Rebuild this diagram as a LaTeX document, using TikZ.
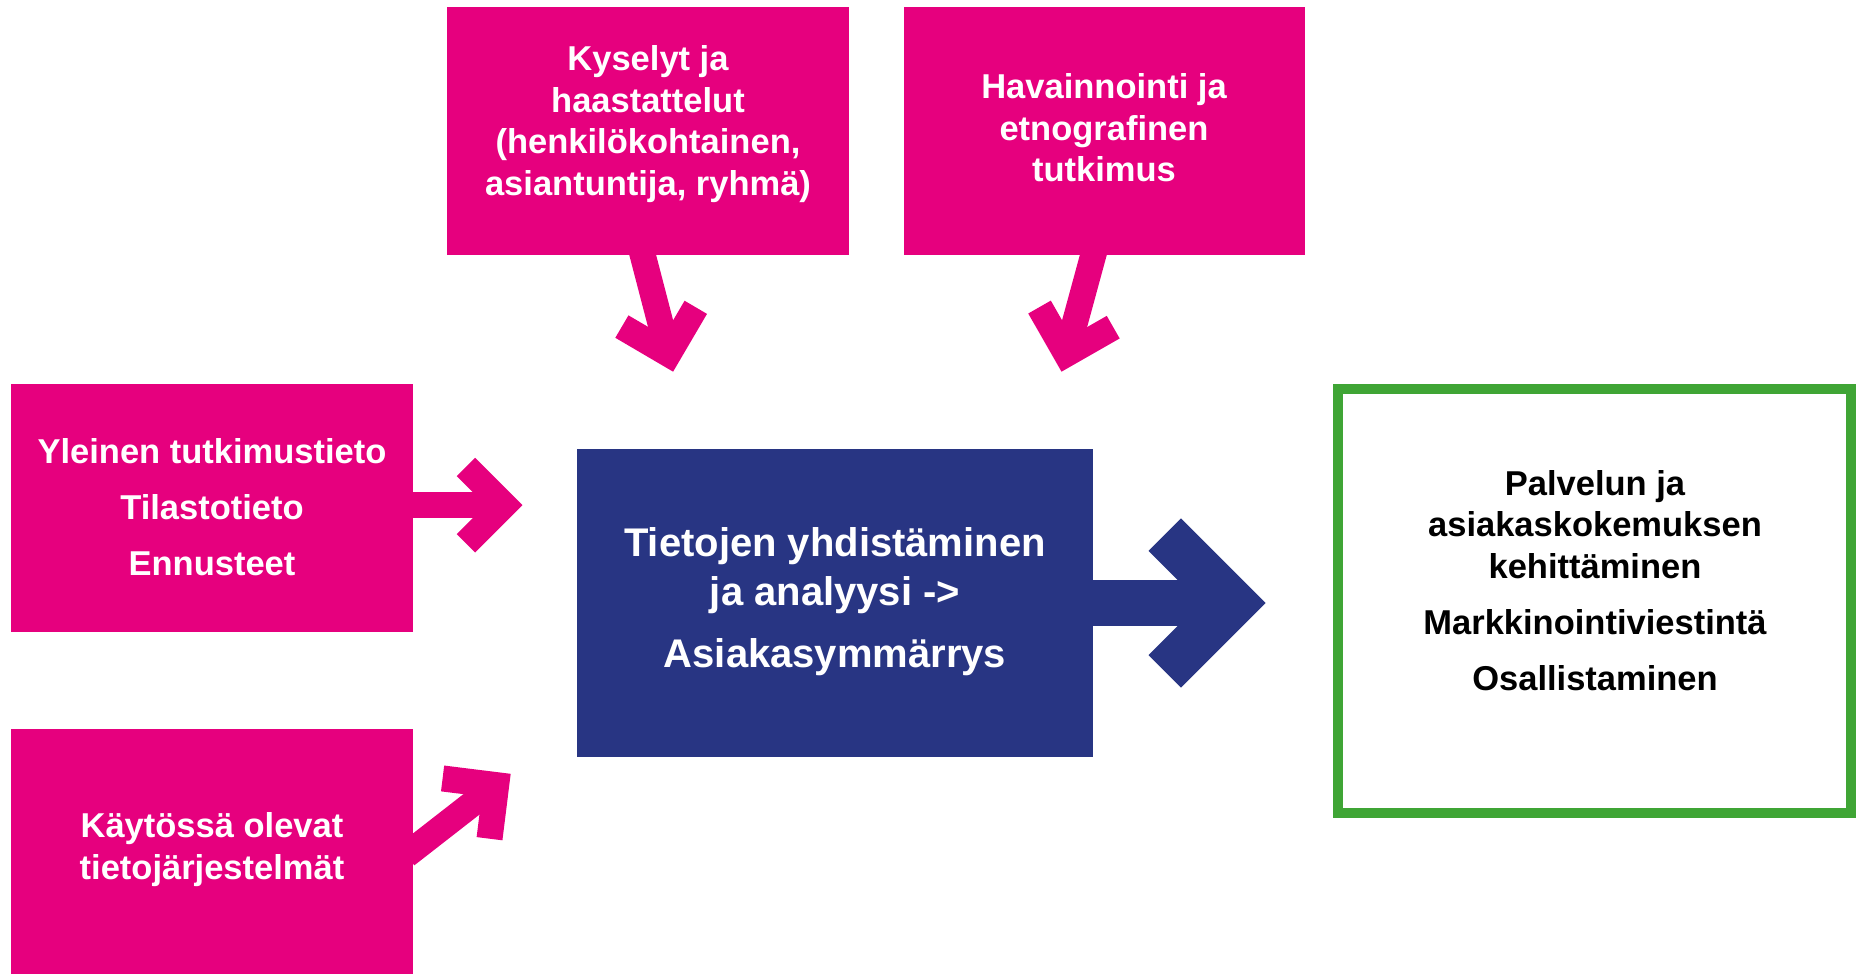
\documentclass[tikz,border=0pt]{standalone}
\usepackage{fontspec}
\setmainfont{Liberation Sans}
\usetikzlibrary{calc}
\pgfdeclarelayer{bg}
\pgfsetlayers{bg,main}
\definecolor{pinkc}{HTML}{E6007E}
\definecolor{navyc}{HTML}{283583}
\definecolor{greenc}{HTML}{3FA535}
\tikzset{
  boxbase/.style={rectangle, inner sep=0pt, outer sep=0pt},
  pinkbox/.style={boxbase, fill=pinkc, minimum width=402pt, minimum height=248pt},
  navybox/.style={boxbase, fill=navyc, minimum width=516pt, minimum height=308pt},
  greenbox/.style={boxbase, draw=greenc, line width=10pt, fill=white, minimum width=513pt, minimum height=424pt},
  lbl/.style={inner sep=0pt, align=center, anchor=base, text=white,
    font=\bfseries\fontsize{34.5}{41.5}\selectfont},
  biglbl/.style={lbl, font=\bfseries\fontsize{40}{48.3}\selectfont},
  darklbl/.style={lbl, text=black},
}
% #1 colour, #2 line width, #3 miter offset, #4 arm length, #5 start coordinate, #6 tip coordinate
\newcommand\ChevArrow[6]{%
  \begin{pgfonlayer}{bg}
    \coordinate (cv) at ($(#6)!#3!(#5)$);
    \draw[#1, line width=#2] ($(cv)!1.08!(#5)$) -- (cv);
    \draw[#1, line width=#2, line join=miter] ($(cv)!#4!45:(#5)$) -- (cv) -- ($(cv)!#4!-45:(#5)$);
  \end{pgfonlayer}}
\begin{document}
\begin{tikzpicture}[x=1pt, y=-1pt]
\useasboundingbox (0,0) rectangle (1856,974);
% boxes
\node[pinkbox] (kysely) at (648,131) {};
\node[pinkbox, minimum width=401pt] (havainto) at (1104,131) {};
\node[pinkbox] (yleinen) at (212,507.5) {};
\node[pinkbox, minimum height=245pt] (kaytossa) at (212,851.5) {};
\node[navybox] (tietojen) at (835,603) {};
\node[greenbox] (palvelu) at (1594.5,601) {};
% texts (anchored at the baseline of their last line)
\node[lbl] (kyselyT) at (648,195) {Kyselyt ja\\haastattelut\\(henkilökohtainen,\\asiantuntija, ryhmä)};
\node[lbl] (havaintoT) at (1104,181.7) {Havainnointi ja\\etnografinen\\tutkimus};
\node[lbl] (yleinenT) at (212,575.8) {Yleinen tutkimustieto\\[14.5pt]Tilastotieto\\[14.5pt]Ennusteet};
\node[lbl] (kaytossaT) at (212,879.3) {Käytössä olevat\\tietojärjestelmät};
\node[biglbl] (tietojenT) at (835,667.7) {Tietojen yhdistäminen\\ja analyysi ->\\[14.4pt]Asiakasymmärrys};
\node[darklbl] (palveluT) at (1595,690) {Palvelun ja\\asiakaskokemuksen\\kehittäminen\\[14.5pt]Markkinointiviestintä\\[14.5pt]Osallistaminen};
% arrow end points
\coordinate (tipA) at (522.5,505.2);
\coordinate (startA) at (yleinen.east |- tipA);
\coordinate (tipB) at (673.1,371.7);
\coordinate (startB) at ([xshift=-5.3pt]kysely.south);
\coordinate (tipC) at (1061.5,371.7);
\coordinate (startC) at ([xshift=-10.7pt]havainto.south);
\coordinate (tipD) at (510.7,773.8);
\coordinate (startD) at ([yshift=1.6pt]kaytossa.east);
\coordinate (tipE) at (1265.7,603);
\coordinate (startE) at (tietojen.east |- tipE);
\ChevArrow{pinkc}{26pt}{18.4pt}{54pt}{startA}{tipA}
\ChevArrow{pinkc}{26pt}{18.4pt}{54pt}{startB}{tipB}
\ChevArrow{pinkc}{26pt}{18.4pt}{54pt}{startC}{tipC}
\ChevArrow{pinkc}{26pt}{18.4pt}{54pt}{startD}{tipD}
\ChevArrow{navyc}{46pt}{32.5pt}{96.8pt}{startE}{tipE}
\end{tikzpicture}
\end{document}
